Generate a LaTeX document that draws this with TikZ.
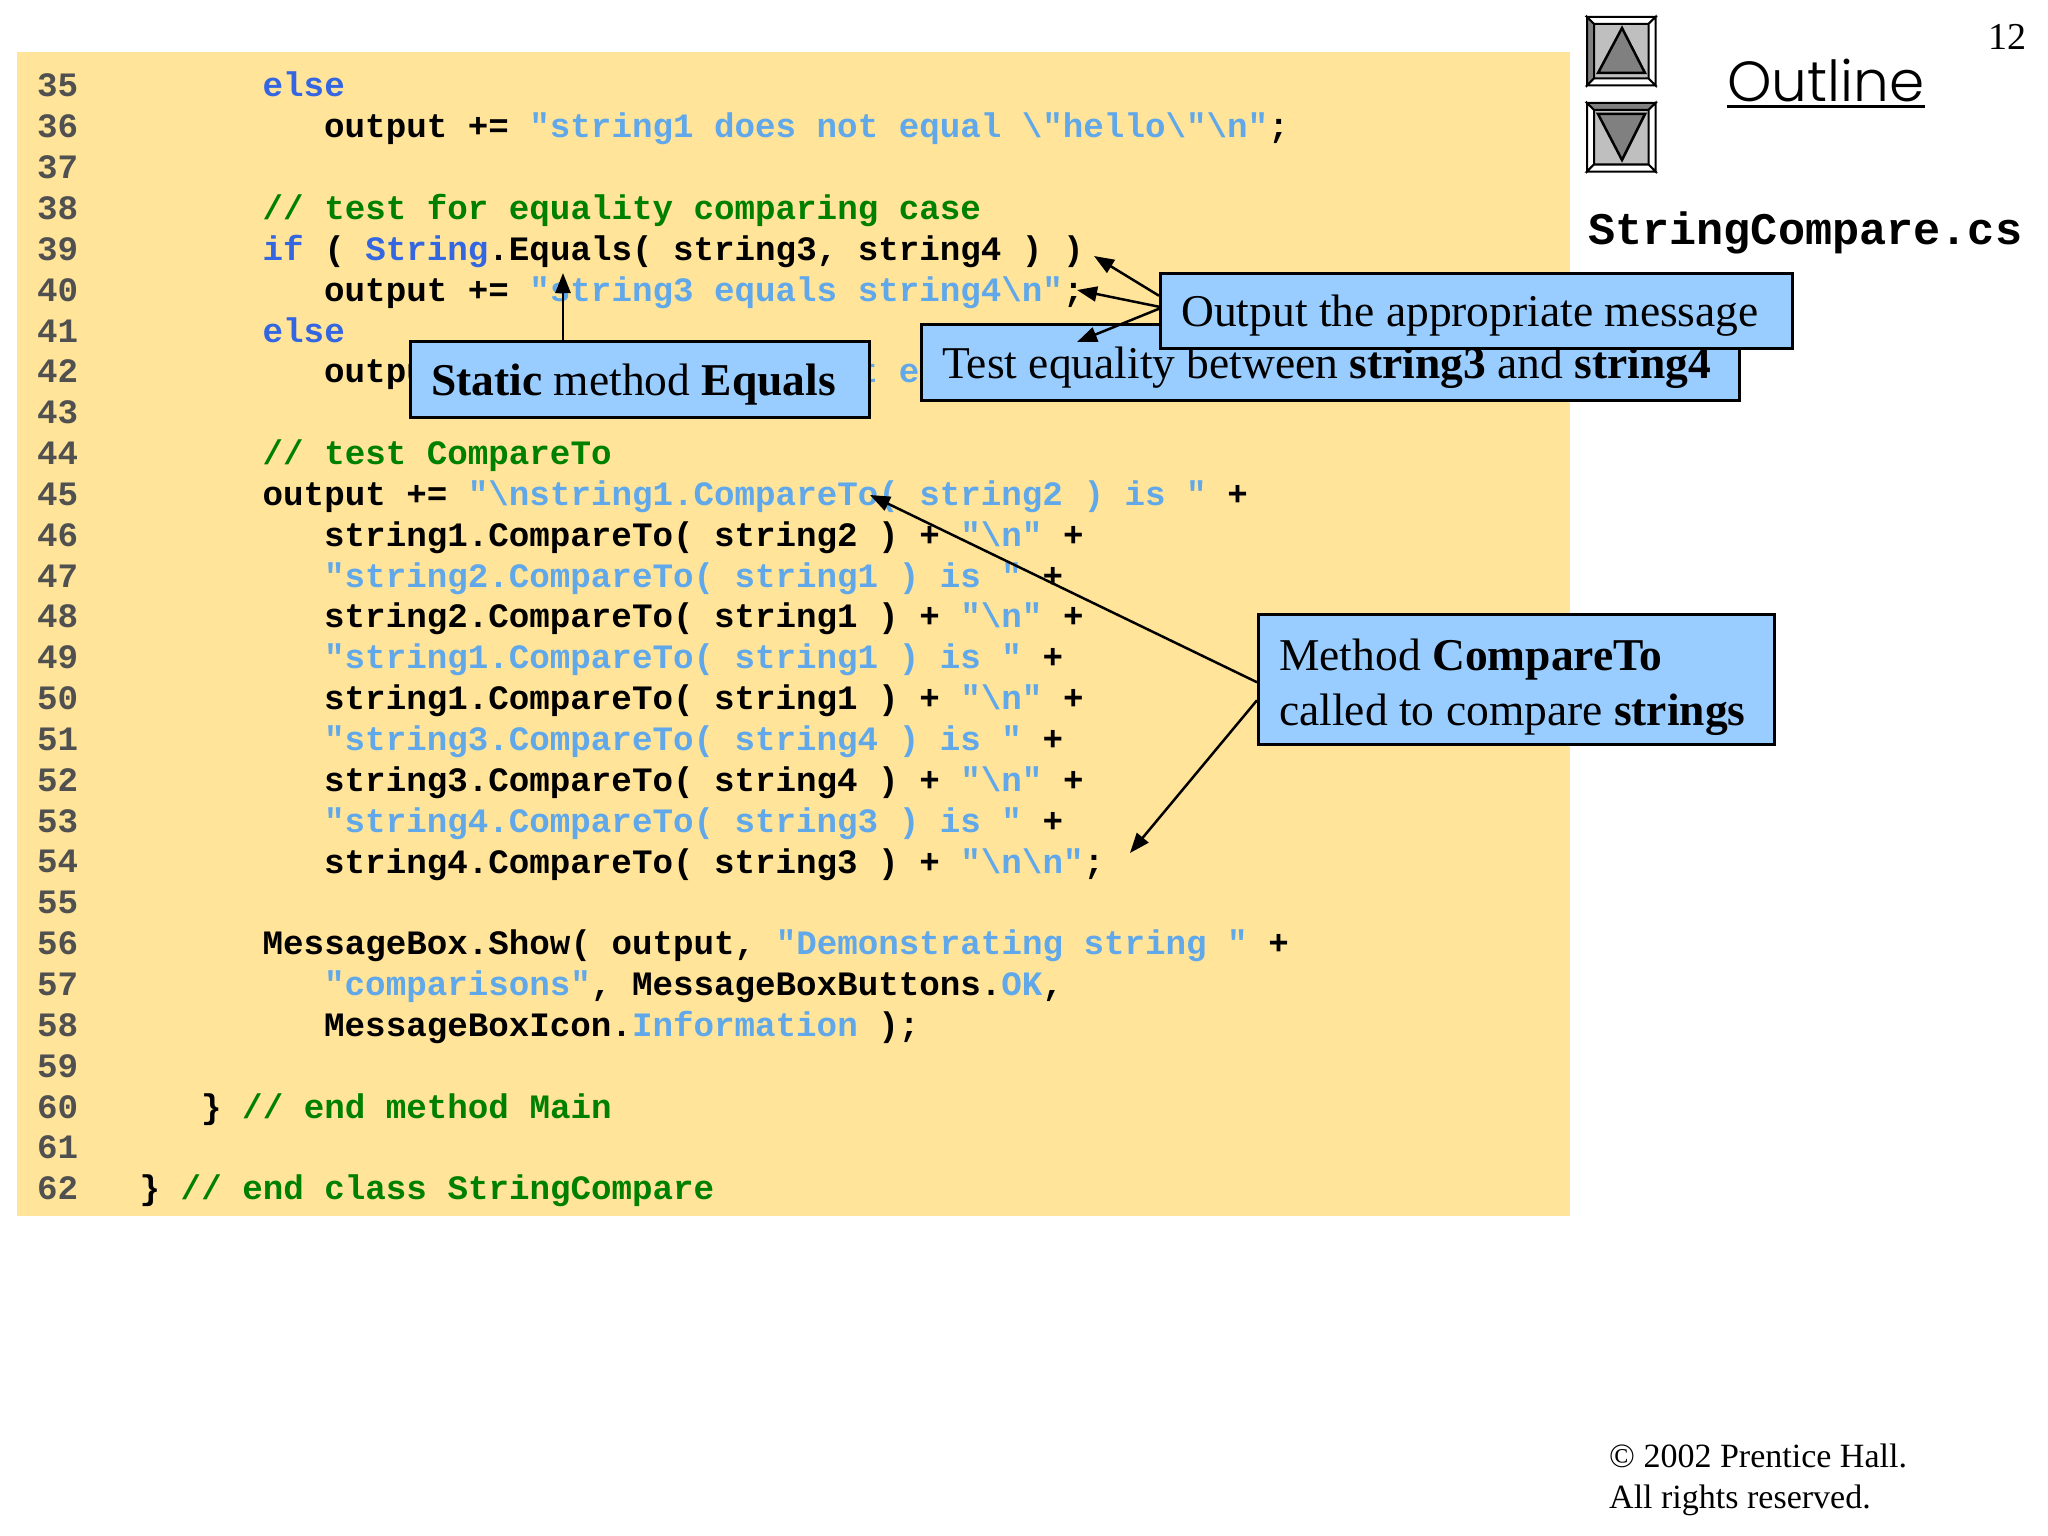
\documentclass[tikz,border=0pt]{standalone}
\usepackage{fontspec}
\usetikzlibrary{arrows.meta}
\setmainfont{Liberation Serif}
\newfontfamily\codefont{Liberation Mono}
\newfontfamily\titlefont{Poppins Light}

\definecolor{panelYellow}{HTML}{FFE499}
\definecolor{calloutBlue}{HTML}{99CCFF}
\definecolor{keywordBlue}{HTML}{3366E0}
\definecolor{stringBlue}{HTML}{60A8EA}
\definecolor{commentGreen}{HTML}{008000}
\definecolor{lineGray}{HTML}{505050}

\newcommand{\kwd}[1]{\textcolor{keywordBlue}{#1}}
\newcommand{\strg}[1]{\textcolor{stringBlue}{#1}}
\newcommand{\cmnt}[1]{\textcolor{commentGreen}{#1}}
\newcommand{\bs}{\textbackslash}
\newcommand{\tightwords}{\setlength{\spaceskip}{11.4pt}}

\tikzset{
    code/.style={anchor=base west, inner sep=0pt, font=\codefont\bfseries\fontsize{34.2}{40}\selectfont},
    lineno/.style={code, text=lineGray},
    callout/.style={draw=black, line width=2.5pt, fill=calloutBlue, anchor=north west, inner xsep=21pt,
        inner ysep=0pt, text depth=0pt, align=left, font=\fontsize{45.5}{55}\selectfont,
        execute at begin node=\tightwords},
    pointer/.style={line width=2.5pt, -{Triangle[length=20pt,width=15pt]}},
    navbutton/.style={draw=black, line width=2.5pt, fill=black!25, anchor=north west,
        minimum width=66pt, minimum height=66pt, inner sep=0pt},
    navarrow/.style={draw=black, line width=2.5pt, fill=black!50, line join=miter},
}

\begin{document}
\begin{tikzpicture}[x=1pt,y=-1pt]
    \useasboundingbox (0,0) rectangle (2048,1536);
    \fill[white] (0,0) rectangle (2048,1536);
    \fill[panelYellow] (17,52) rectangle (1570,1216);

    % line numbers
    \foreach \n in {35,...,62} {
        \node[lineno] (No\n) at (37,{97+40.84*(\n-35)}) {\n};
    }

    % program text
    \node[code] (L35) at (262.5,97) {\kwd{else}};
    \node[code] (L36) at (324,137.8) {output += \strg{"string1 does not equal \bs"hello\bs"\bs n"};};
    \node[code] (L38) at (262.5,219.5) {\cmnt{// test for equality comparing case}};
    \node[code] (L39) at (262.5,260.4) {\kwd{if} ( \kwd{String}.Equals( string3, string4 ) )};
    \node[code] (L40) at (324,301.2) {output += \strg{"string3 equals string4\bs n"};};
    \node[code] (L41) at (262.5,342) {\kwd{else}};
    \node[code] (L42) at (324,382.9) {output += \strg{"string3 does not equal string4\bs n"};};
    \node[code] (L44) at (262.5,464.6) {\cmnt{// test CompareTo}};
    \node[code] (L45) at (262.5,505.4) {output += \strg{"\bs nstring1.CompareTo( string2 ) is "} +};
    \node[code] (L46) at (324,546.2) {string1.CompareTo( string2 ) + \strg{"\bs n"} +};
    \node[code] (L47) at (324,587.1) {\strg{"string2.CompareTo( string1 ) is "} +};
    \node[code] (L48) at (324,627.9) {string2.CompareTo( string1 ) + \strg{"\bs n"} +};
    \node[code] (L49) at (324,668.8) {\strg{"string1.CompareTo( string1 ) is "} +};
    \node[code] (L50) at (324,709.6) {string1.CompareTo( string1 ) + \strg{"\bs n"} +};
    \node[code] (L51) at (324,750.4) {\strg{"string3.CompareTo( string4 ) is "} +};
    \node[code] (L52) at (324,791.3) {string3.CompareTo( string4 ) + \strg{"\bs n"} +};
    \node[code] (L53) at (324,832.1) {\strg{"string4.CompareTo( string3 ) is "} +};
    \node[code] (L54) at (324,873) {string4.CompareTo( string3 ) + \strg{"\bs n\bs n"};};
    \node[code] (L56) at (262.5,954.6) {MessageBox.Show( output, \strg{"Demonstrating string "} +};
    \node[code] (L57) at (324,995.5) {\strg{"comparisons"}, MessageBoxButtons.\strg{OK},};
    \node[code] (L58) at (324,1036.3) {MessageBoxIcon.\strg{Information} );};
    \node[code] (L60) at (201,1118) {\} \cmnt{// end method Main}};
    \node[code] (L62) at (139.5,1199.7) {\} \cmnt{// end class StringCompare}};

    % callouts
    \node[callout, minimum height=76pt, text width=417pt, text depth=-4pt] (StaticBox) at (409,340)
        {\textbf{Static} method \textbf{Equals}};
    \node[callout, minimum height=76pt, text width=776pt, text depth=-11pt] (TestBox) at (920,323)
        {Test equality between \textbf{string3} and \textbf{string4}};
    \node[callout, minimum height=75pt, text width=590pt, text depth=-11pt] (OutputBox) at (1159,272)
        {Output the appropriate message};
    \node[callout, minimum height=130pt, text width=474pt, text depth=49pt] (MethodBox) at (1257,613)
        {Method \textbf{CompareTo}\\called to compare \textbf{strings}};

    % pointers
    \coordinate (EqualsTip) at (563,273);
    \coordinate (IfTip) at (1094,256);
    \coordinate (OutTip) at (1077,290);
    \coordinate (ElseTip) at (1077,342);
    \coordinate (FirstTip) at (870,495);
    \coordinate (LastTip) at (1130,853);
    \draw[pointer] (StaticBox.north -| EqualsTip) -- (EqualsTip);
    \draw[pointer] ([yshift=15pt]OutputBox.west) -- (IfTip);
    \draw[pointer] ([yshift=4pt]OutputBox.west) -- (OutTip);
    \draw[pointer] ([yshift=2pt]OutputBox.west) -- (ElseTip);
    \draw[pointer] ([yshift=-3pt]MethodBox.west) -- (FirstTip);
    \draw[pointer] ([yshift=-21pt]MethodBox.west) -- (LastTip);

    % outline column
    \node[navbutton] (UpButton) at (1587,17) {};
    \node[navbutton] (DownButton) at (1587,103) {};
    \foreach \b/\topc/\leftc in {UpButton/white/black!50, DownButton/black!50/white} {
        \coordinate (\b In) at ([shift={(7pt,-7pt)}]\b.north west);
        \coordinate (\b Out) at ([shift={(-7pt,7pt)}]\b.south east);
        \draw[line width=2pt, fill=\topc] (\b.north west) -- (\b.north east) -- (\b In -| \b Out) -- (\b In) -- cycle;
        \draw[line width=2pt, fill=\leftc] (\b.north west) -- (\b.south west) -- (\b Out -| \b In) -- (\b In) -- cycle;
        \draw[line width=2pt, fill=white] (\b.south east) -- (\b.north east) -- (\b In -| \b Out) -- (\b Out) -- cycle;
        \draw[line width=2pt, fill=white] (\b.south east) -- (\b.south west) -- (\b Out -| \b In) -- (\b Out) -- cycle;
    }
    \draw[navarrow] (1622,28) -- (1645,73) -- (1598,73) -- cycle;
    \draw[navarrow] (1622,160) -- (1645,114) -- (1598,114) -- cycle;
    \node[anchor=base west, inner sep=0pt, font=\titlefont\fontsize{56.5}{60}\selectfont] (OutlineTitle) at (1727,102) {Outline};
    \draw[line width=3pt] ([yshift=-4pt]OutlineTitle.south west) -- ([yshift=-4pt]OutlineTitle.south east);
    \node[code, font=\codefont\bfseries\fontsize{45.2}{50}\selectfont] (FileName) at (1588,244) {StringCompare.cs};
    \node[anchor=base east, inner sep=0pt, font=\fontsize{38}{38}\selectfont] (PageNo) at (2027,50) {12};
    \node[anchor=base west, inner sep=0pt, align=left, font=\fontsize{34}{40}\selectfont] (Copyright) at (1609,1467)
        {\copyright{} 2002 Prentice Hall.};
    \node[anchor=base west, inner sep=0pt, align=left, font=\fontsize{34}{40}\selectfont] (Rights) at (1609,1508)
        {All rights reserved.};
\end{tikzpicture}
\end{document}
